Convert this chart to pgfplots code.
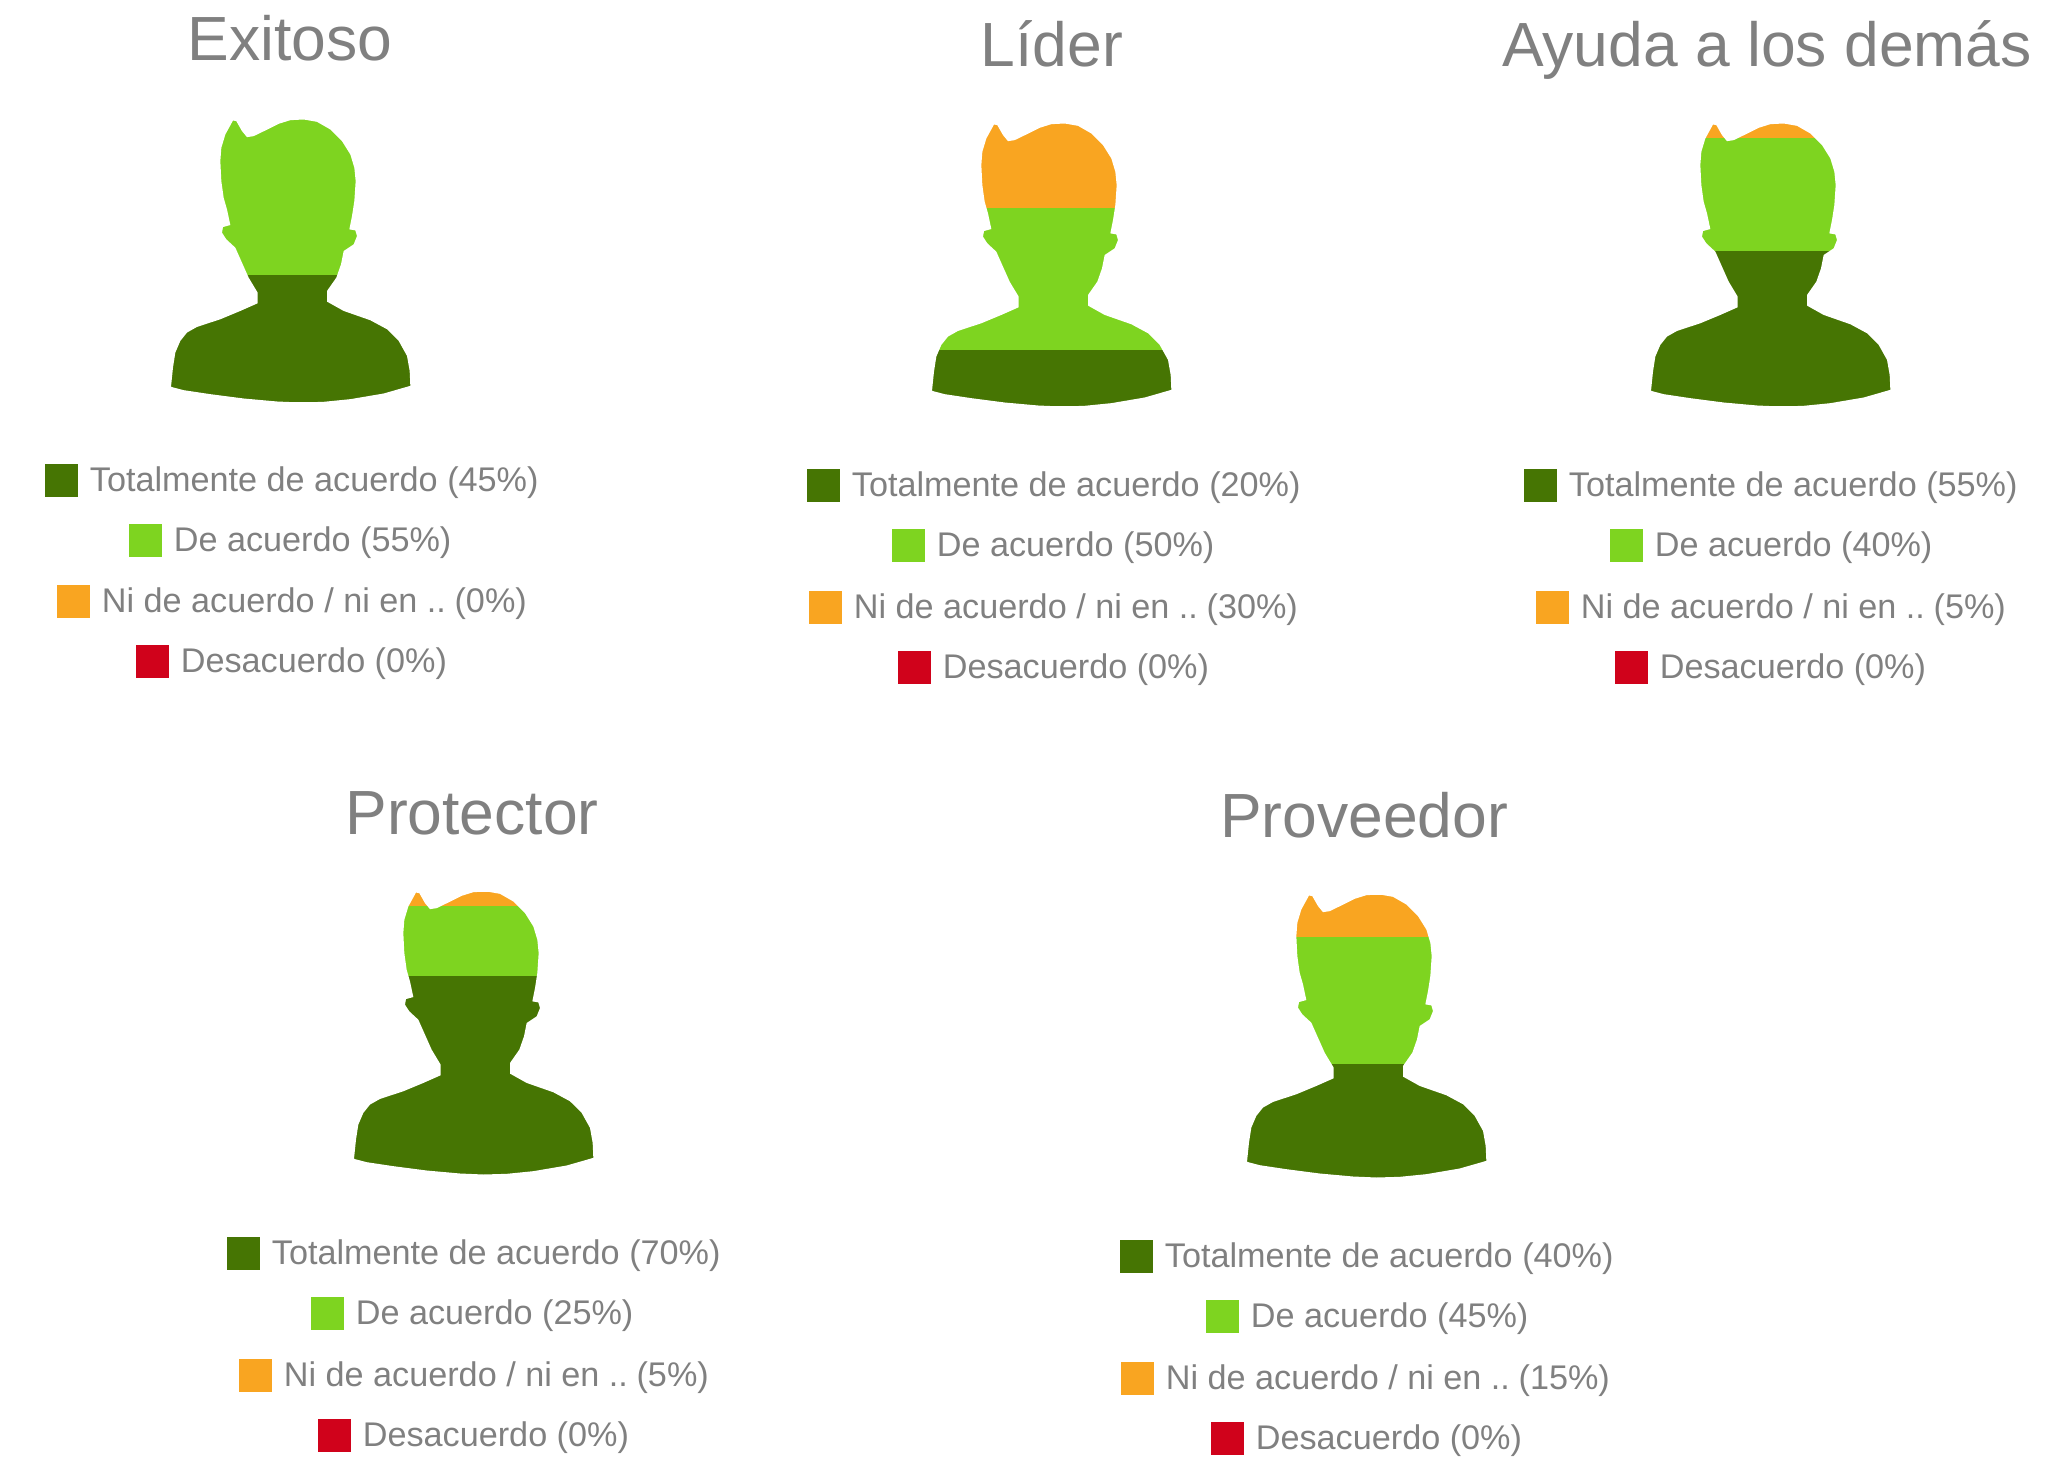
\documentclass[border=0pt]{standalone}
\usepackage{fontspec}
\setmainfont{Liberation Sans}
\usepackage{pgfplots}
\usepackage{pgfplotstable}
\pgfplotsset{compat=1.18}
\definecolor{verdeosc}{HTML}{467503}
\definecolor{verde}{HTML}{7ED420}
\definecolor{naranja}{HTML}{F9A521}
\definecolor{rojo}{HTML}{D0021B}
\definecolor{gristxt}{HTML}{808080}

% outline in 3x pixels, outer rectangle first so that the head is a hole in the mask
\pgfplotstableread{
x y
40 858
40 930
800 930
800 30
40 30
40 858
62 858
68 800
75 755
90 720
110 695
140 678
210 655
270 630
322 607
322 575
295 530
255 440
228 415
215 395
218 378
240 372
230 325
220 290
213 240
210 180
213 140
225 100
248 58
258 60
275 90
290 108
310 105
345 88
385 68
420 57
460 55
500 62
540 85
575 120
600 160
612 200
616 240
612 300
605 345
597 385
615 388
620 405
610 430
580 450
572 490
558 530
530 570
530 602
580 630
660 658
710 685
745 720
770 765
778 810
780 855
700 878
600 895
520 903
450 905
380 902
280 893
180 880
100 868
62 858
}\cabeza

\newcommand{\persona}[6]{%
\begin{axis}[at={(#1*0.5pt,{(1458-#2)*0.5pt})},anchor=south west,scale only axis,
 width=120pt,height=141.5pt,xmin=0,xmax=240,ymin=0,ymax=100,hide axis,clip=false,
 ybar stacked,bar width=122.5pt,bar shift=0pt]
\addplot[fill=verdeosc,draw=none] coordinates {(120,#3)};
\addplot[fill=verde,draw=none] coordinates {(120,#4)};
\addplot[fill=naranja,draw=none] coordinates {(120,#5)};
\addplot[fill=rojo,draw=none] coordinates {(120,#6)};
\end{axis}
\begin{axis}[at={(#1*0.5pt,{(1458-#2)*0.5pt})},anchor=south west,scale only axis,
 width=120pt,height=141.5pt,xmin=0,xmax=240,ymin=0,ymax=100,hide axis,clip=false]
\addplot[fill=white,draw=none,even odd rule] table[x expr=(\thisrow{x}-62)/3,y expr=(905-\thisrow{y})/8.5] {\cabeza} -- cycle;
\end{axis}}

\newcommand{\titulo}[3]{\node[anchor=base,text=gristxt,inner sep=0pt,font=\fontsize{31.2}{34}\selectfont] at (axis cs:#1,#2) {#3};}
\newcommand{\leyenda}[3]{\node[anchor=base west,text=gristxt,inner sep=0pt,font=\fontsize{17.1}{20}\selectfont] at (axis cs:#1+45.5,#2+11.5) {#3};}
\newcommand{\nide}{Ni de acuerdo / ni en .. \kern-2pt}

\begin{document}
\begin{tikzpicture}
\useasboundingbox (0,0) rectangle (1035.5pt,729pt);
\persona{171}{402.5}{45}{55}{0}{0}
\persona{932}{406.5}{20}{50}{30}{0}
\persona{1651}{406.5}{55}{40}{5}{0}
\persona{354}{1174.5}{70}{25}{5}{0}
\persona{1247}{1177.5}{40}{45}{15}{0}
\begin{axis}[at={(0,0)},anchor=south west,scale only axis,width=1035.5pt,height=729pt,
 xmin=0,xmax=2071,ymin=0,ymax=1458,y dir=reverse,hide axis,clip=false]
\addplot[only marks,mark=square*,mark size=8pt,mark options={fill=verdeosc,draw=verdeosc,line width=0.3pt}] coordinates
 {(61,480) (823,485) (1540,485) (243,1253) (1136,1256)};
\addplot[only marks,mark=square*,mark size=8pt,mark options={fill=verde,draw=verde,line width=0.3pt}] coordinates
 {(145,540) (908,545) (1626,545) (327,1313) (1222,1316)};
\addplot[only marks,mark=square*,mark size=8pt,mark options={fill=naranja,draw=naranja,line width=0.3pt}] coordinates
 {(73,601) (825,607) (1552,607) (255,1375) (1137,1378)};
\addplot[only marks,mark=square*,mark size=8pt,mark options={fill=rojo,draw=rojo,line width=0.3pt}] coordinates
 {(152,661) (914,667) (1631,667) (334,1435) (1227,1438)};
\titulo{290}{60}{Exitoso}
\titulo{1052}{66}{Líder}
\titulo{1767}{66}{Ayuda a los demás}
\titulo{472}{834}{Protector}
\titulo{1364}{837}{Proveedor}
\leyenda{44}{480}{Totalmente de acuerdo (45\%)}
\leyenda{128}{540}{De acuerdo (55\%)}
\leyenda{56}{601}{\nide(0\%)}
\leyenda{135}{661}{Desacuerdo (0\%)}
\leyenda{806}{485}{Totalmente de acuerdo (20\%)}
\leyenda{891}{545}{De acuerdo (50\%)}
\leyenda{808}{607}{\nide(30\%)}
\leyenda{897}{667}{Desacuerdo (0\%)}
\leyenda{1523}{485}{Totalmente de acuerdo (55\%)}
\leyenda{1609}{545}{De acuerdo (40\%)}
\leyenda{1535}{607}{\nide(5\%)}
\leyenda{1614}{667}{Desacuerdo (0\%)}
\leyenda{226}{1253}{Totalmente de acuerdo (70\%)}
\leyenda{310}{1313}{De acuerdo (25\%)}
\leyenda{238}{1375}{\nide(5\%)}
\leyenda{317}{1435}{Desacuerdo (0\%)}
\leyenda{1119}{1256}{Totalmente de acuerdo (40\%)}
\leyenda{1205}{1316}{De acuerdo (45\%)}
\leyenda{1120}{1378}{\nide(15\%)}
\leyenda{1210}{1438}{Desacuerdo (0\%)}
\end{axis}
\end{tikzpicture}
\end{document}
